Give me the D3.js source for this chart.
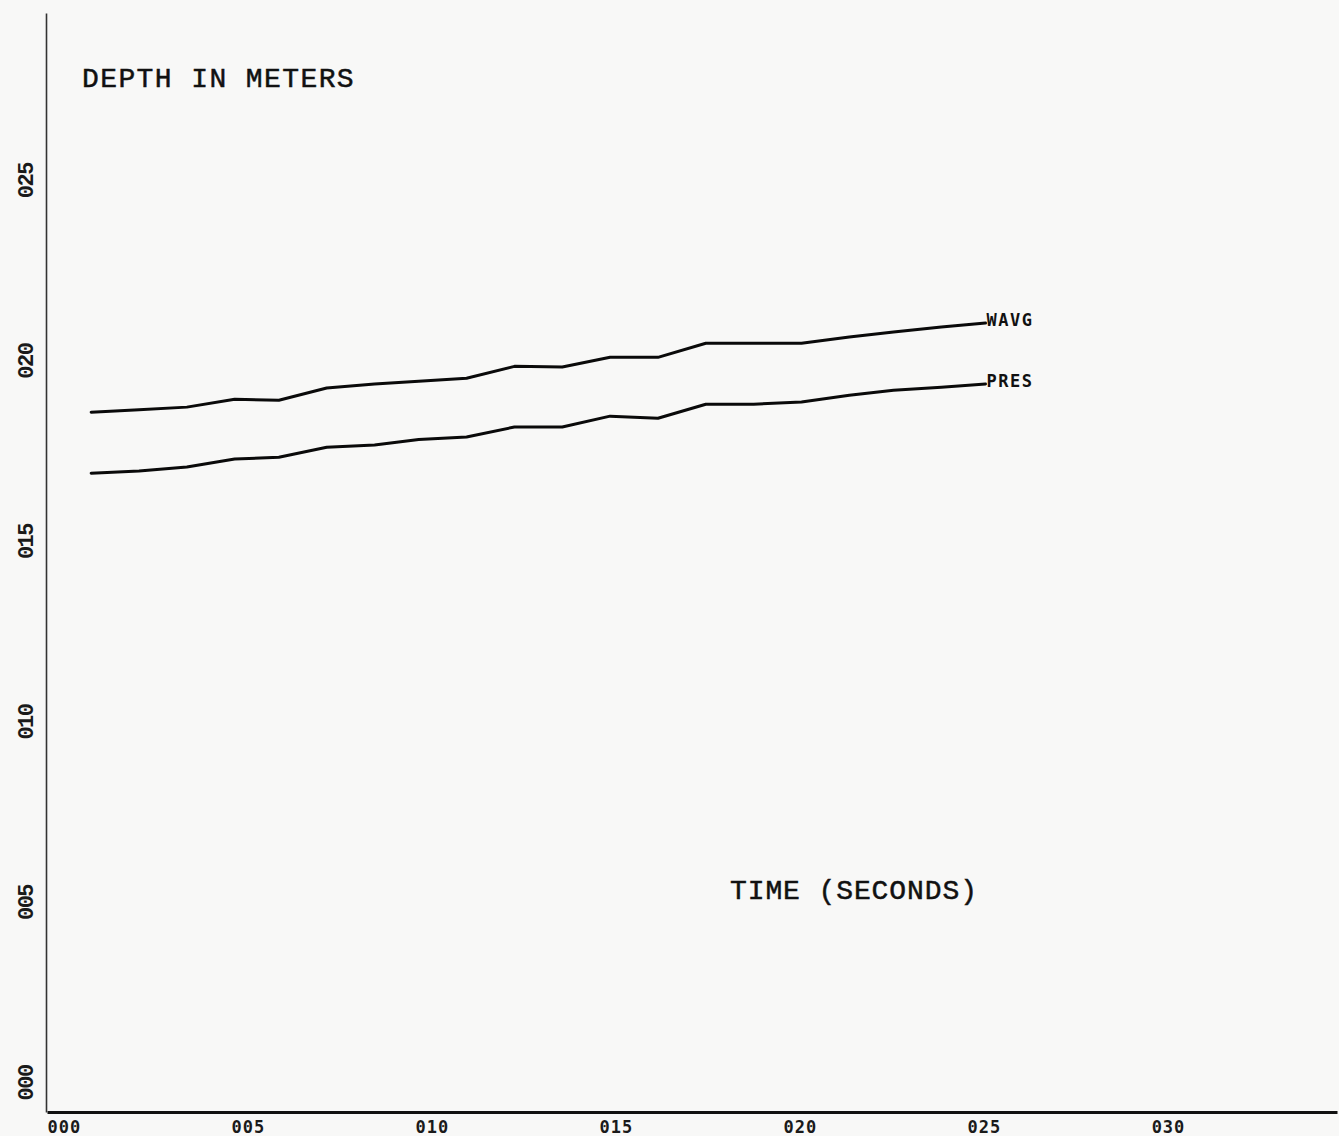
<!DOCTYPE html>
<html>
<head>
<meta charset="utf-8">
<script src="https://cdn.jsdelivr.net/npm/d3@7"></script>
<style>
  html, body { margin: 0; padding: 0; background: #f8f8f7; }
  svg { display: block; }
</style>
</head>
<body>
<script>
// Sample times (seconds)
const times = [1.2, 2.5, 3.8, 5.1, 6.3, 7.6, 8.9, 10.1, 11.4, 12.7,
               14.0, 15.3, 16.6, 17.9, 19.2, 20.5, 21.8, 23.0, 24.3, 25.5];

// Depth (m): weighted average of wave gauges
const wavg = [0.1939, 0.1946, 0.1953, 0.1975, 0.1972, 0.2006, 0.2017, 0.2025, 0.2033, 0.2066,
              0.2064, 0.2091, 0.2091, 0.2130, 0.2130, 0.2130, 0.2147, 0.2161, 0.2175, 0.2186];

// Depth (m): pressure sensor
const pres = [0.1770, 0.1776, 0.1787, 0.1809, 0.1814, 0.1842, 0.1848, 0.1863, 0.1870, 0.1898,
              0.1898, 0.1928, 0.1922, 0.1961, 0.1961, 0.1967, 0.1986, 0.2000, 0.2008, 0.2017];

const seriesNames = ["WAVG", "PRES"];

// Axis ticks and their printed labels
const xTicks = [0, 5, 10, 15, 20, 25, 30];
const xTickLabels = ["000", "005", "010", "015", "020", "025", "030"];
const yTicks = [0, 0.05, 0.10, 0.15, 0.20, 0.25];
const yTickLabels = ["000", "005", "010", "015", "020", "025"];

const W = 1339, H = 1136;
const svg = d3.select("body").append("svg").attr("width", W).attr("height", H);

const x = d3.scaleLinear().domain([0, 35.05]).range([47, 1337]);
const y = d3.scaleLinear().domain([0, 0.3045]).range([1112, 13]);

// Horizontal axis: heavy baseline, labels start at each tick
const gx = svg.append("g")
  .attr("transform", `translate(0,${y(0)})`)
  .call(d3.axisBottom(x).tickValues(xTicks).tickSize(0).tickSizeOuter(0)
        .tickFormat((d, i) => xTickLabels[i]));
gx.select(".domain").attr("stroke", "#111").attr("stroke-width", 3);
gx.selectAll("text")
  .attr("text-anchor", "start")
  .attr("y", 21)
  .attr("dy", null)
  .attr("fill", "#1a1a1a")
  .style("font-family", "'DejaVu Sans Mono', monospace")
  .style("font-size", "17px")
  .style("font-weight", "bold")
  .style("letter-spacing", "1px");

// Vertical axis: thin line, rotated labels
const gy = svg.append("g")
  .attr("transform", `translate(46,0)`)
  .call(d3.axisLeft(y).tickValues(yTicks).tickSize(0).tickSizeOuter(0)
        .tickFormat((d, i) => yTickLabels[i]));
gy.select(".domain").attr("stroke", "#333").attr("stroke-width", 1.6);
gy.selectAll("text")
  .attr("x", null)
  .attr("dy", null)
  .attr("text-anchor", "start")
  .attr("transform", "translate(-13,-12) rotate(-90)")
  .attr("fill", "#1a1a1a")
  .style("font-family", "'Liberation Mono', monospace")
  .style("font-size", "22px")
  .style("font-weight", "bold")
  .style("letter-spacing", "-1.5px");

// Depth traces
const line = d3.line()
  .x((d, i) => x(times[i]))
  .y(d => y(d));

const series = [wavg, pres];
series.forEach((vals, k) => {
  svg.append("path")
    .datum(vals)
    .attr("d", line)
    .attr("fill", "none")
    .attr("stroke", "#0a0a0a")
    .attr("stroke-width", 3)
    .attr("stroke-linejoin", "round")
    .attr("stroke-linecap", "round");

  const n = vals.length - 1;
  svg.append("text")
    .attr("x", x(times[n]) + 1)
    .attr("y", y(vals[n]) + 3)
    .attr("fill", "#111")
    .style("font-family", "'DejaVu Sans Mono', monospace")
    .style("font-size", "17px")
    .style("font-weight", "bold")
    .style("letter-spacing", "1.5px")
    .text(seriesNames[k]);
});

// Axis titles
svg.append("text")
  .attr("x", 82).attr("y", 87)
  .attr("fill", "#111")
  .attr("stroke", "#111")
  .attr("stroke-width", 0.5)
  .style("font-family", "'Liberation Mono', monospace")
  .style("font-size", "28px")
  .style("letter-spacing", "1.4px")
  .text("DEPTH IN METERS");

svg.append("text")
  .attr("x", 730).attr("y", 899)
  .attr("fill", "#111")
  .attr("stroke", "#111")
  .attr("stroke-width", 0.5)
  .style("font-family", "'Liberation Mono', monospace")
  .style("font-size", "28px")
  .style("letter-spacing", "0.9px")
  .text("TIME (SECONDS)");
</script>
</body>
</html>
